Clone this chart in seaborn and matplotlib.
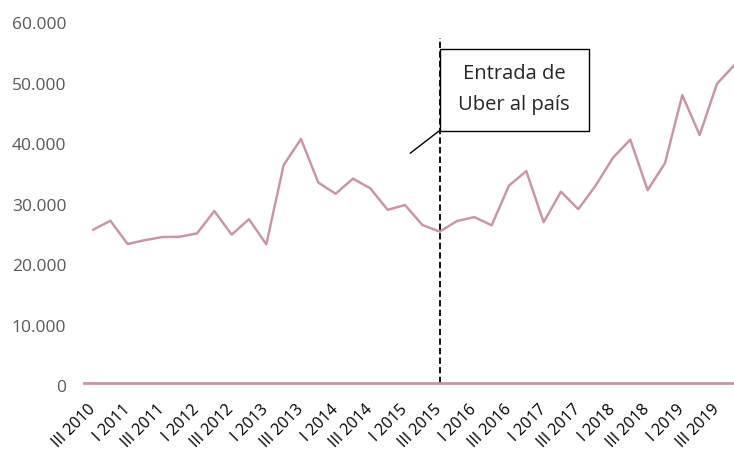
import numpy as np
import pandas as pd
import matplotlib
matplotlib.use("Agg")
import matplotlib.pyplot as plt
import matplotlib.transforms as mtransforms
from matplotlib.patches import Rectangle
import seaborn as sns

# quarterly series, III 2010 .. IV 2019
QUARTERS = ["III", "IV", "I", "II"]
START_YEAR = 2010
VALUES = [
    25300, 26800, 22950, 23600, 24100, 24150, 24700, 28400, 24500, 27050,
    22900, 36000, 40300, 33100, 31250, 33750, 32150, 28600, 29400, 26100,
    25000, 26750, 27400, 26050, 32600, 35000, 26550, 31600, 28700, 32600,
    37200, 40200, 31850, 36300, 47550, 40950, 49400, 52500,
]
Y_TICKS = [0, 10000, 20000, 30000, 40000, 50000, 60000]
EVENT_LABEL = "Entrada de\nUber al país"
EVENT_INDEX = 20  # III 2015

LINE_COLOR = "#CB94A2"

labels = []
for i in range(len(VALUES)):
    q = QUARTERS[i % 4]
    year = START_YEAR + (i + 2) // 4
    labels.append(f"{q} {year}")

df = pd.DataFrame({"idx": np.arange(len(VALUES)), "valor": VALUES, "trimestre": labels})

sns.set_style("white")
plt.rcParams["font.family"] = ["Open Sans", "DejaVu Sans"]

fig = plt.figure(figsize=(7.34, 4.51), dpi=100)
ax = fig.add_axes([0.1149, 0.1508, 0.8973, 0.8055])

sns.lineplot(data=df, x="idx", y="valor", color=LINE_COLOR, linewidth=1.75, ax=ax)

ax.set_xlim(-0.5, len(VALUES) - 0.5)
ax.set_ylim(0, 60000)
ax.set_xlabel("")
ax.set_ylabel("")

for s in ["top", "right", "left"]:
    ax.spines[s].set_visible(False)
ax.spines["bottom"].set_color(LINE_COLOR)
ax.spines["bottom"].set_linewidth(2.0)

ax.set_yticks(Y_TICKS)
ax.set_yticklabels([f"{v:,}".replace(",", ".") for v in Y_TICKS],
                   fontsize=12.5, color="#595959")
ax.tick_params(axis="y", length=0, pad=13)
offset = mtransforms.ScaledTranslation(0, -3.5 / 100, fig.dpi_scale_trans)
for lab in ax.get_yticklabels():
    lab.set_transform(lab.get_transform() + offset)

tick_idx = df["idx"][::2]
ax.set_xticks(tick_idx)
ax.set_xticklabels(df["trimestre"][::2], rotation=45, ha="right",
                   va="center", rotation_mode="anchor", fontsize=11.5,
                   color="black")
ax.tick_params(axis="x", length=0, pad=17.5)

# event marker
ax.vlines(EVENT_INDEX, 0, 57000, color="black", linestyle=(0, (3.5, 1.8)),
          linewidth=1.3)

box_x0, box_x1 = EVENT_INDEX, 28.6
box_y0, box_y1 = 41700, 55150
ax.add_patch(Rectangle((box_x0, box_y0), box_x1 - box_x0, box_y1 - box_y0,
                       facecolor="white", edgecolor="black", linewidth=1.0,
                       zorder=4))
ax.text((box_x0 + box_x1) / 2, (box_y0 + box_y1) / 2, EVENT_LABEL,
        ha="center", va="center", fontsize=14.5, linespacing=1.75, zorder=5)
ax.plot([18.3, EVENT_INDEX], [37950, box_y0], color="black", linewidth=1.0)

fig.savefig("out.png", dpi=100)
